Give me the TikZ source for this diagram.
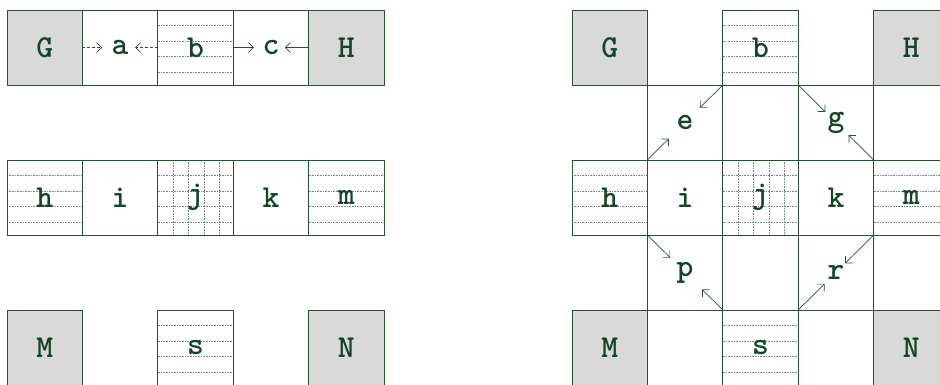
\documentclass[tikz,border=0pt]{standalone}
\usetikzlibrary{arrows.meta}
\definecolor{ln}{RGB}{38,82,52}
\definecolor{tx}{RGB}{18,70,38}
\definecolor{hl}{RGB}{120,142,124}
\definecolor{gf}{RGB}{217,217,217}
\tikzset{
  cell/.style={draw=ln, line width=0.8pt, minimum width=75.4pt, minimum height=75pt,
    inner sep=0pt, outer sep=0pt, text=tx, font=\fontsize{32}{36}\selectfont\ttfamily\bfseries, anchor=north west},
  shadecell/.style={cell, fill=gf},
  hline/.style={hl, line width=0.6pt, dash pattern=on 0.8pt off 0.8pt},
  hatchh/.style={path picture={
    \foreach \k in {1,...,4}
      \draw[hline] ([yshift=-\k*15.5pt]path picture bounding box.north west) -- ([yshift=-\k*15.5pt]path picture bounding box.north east);}},
  hatchg/.style={path picture={
    \foreach \k in {1,...,4}{
      \draw[hline] ([yshift=-\k*15.5pt]path picture bounding box.north west) -- ([yshift=-\k*15.5pt]path picture bounding box.north east);
      \draw[hline] ([xshift=\k*15.4pt]path picture bounding box.north west) -- ([xshift=\k*15.4pt]path picture bounding box.south west);}}},
  arr/.style={ln, line width=0.7pt, -{Straight Barb[length=5pt,width=10pt]}},
  dsh/.style={dash pattern=on 3pt off 2pt},
}
\begin{document}
\begin{tikzpicture}[x=1pt,y=-1pt]
\clip (0,0) rectangle (940,385);
% ---------- left diagram ----------
\node[shadecell] (lG) at (7,10) {G};
\node[cell] (la) at (82.4,10) {a};
\node[cell,hatchh] (lb) at (157.8,10) {b};
\node[cell] (lc) at (233.2,10) {c};
\node[shadecell] (lH) at (308.6,10) {H};
\node[cell,hatchh] (lh) at (7,160) {h};
\node[cell] (li) at (82.4,160) {i};
\node[cell,hatchg] (lj) at (157.8,160) {j};
\node[cell] (lk) at (233.2,160) {k};
\node[cell,hatchh] (lm) at (308.6,160) {m};
\node[shadecell] (lM) at (7,310) {M};
\node[cell,hatchh] (ls) at (157.8,310) {s};
\node[shadecell] (lN) at (308.6,310) {N};
\draw[arr,dsh,shorten >=18pt] (lG.east) -- (la.center);
\draw[arr,dsh,shorten >=15pt] (lb.west) -- (la.center);
\draw[arr,shorten >=17pt] (lb.east) -- (lc.center);
\draw[arr,shorten >=14pt] (lH.west) -- (lc.center);
% ---------- right diagram ----------
\node[shadecell] (rG) at (572,10) {G};
\node[cell,hatchh] (rb) at (722.8,10) {b};
\node[shadecell] (rH) at (873.6,10) {H};
\node[cell] (re) at (647.4,85) {e};
\node[cell] (rx1) at (722.8,85) {};
\node[cell] (rg) at (798.2,85) {g};
\node[cell,hatchh] (rh) at (572,160) {h};
\node[cell] (ri) at (647.4,160) {i};
\node[cell,hatchg] (rj) at (722.8,160) {j};
\node[cell] (rk) at (798.2,160) {k};
\node[cell,hatchh] (rm) at (873.6,160) {m};
\node[cell] (rp) at (647.4,235) {p};
\node[cell] (rx2) at (722.8,235) {};
\node[cell] (rr) at (798.2,235) {r};
\node[shadecell] (rM) at (572,310) {M};
\node[cell,hatchh] (rs) at (722.8,310) {s};
\node[shadecell] (rN) at (873.6,310) {N};
\draw[arr,shorten >=21pt] (rb.south west) -- (re.center);
\draw[arr,shorten >=23pt] (ri.north west) -- (re.center);
\draw[arr,shorten >=15pt] (rb.south east) -- (rg.center);
\draw[arr,shorten >=18pt] (rk.north east) -- (rg.center);
\draw[arr,shorten >=21pt] (ri.south west) -- (rp.center);
\draw[arr,shorten >=24pt] (rs.north west) -- (rp.center);
\draw[arr,shorten >=13pt] (rk.south east) -- (rr.center);
\draw[arr,shorten >=16pt] (rs.north east) -- (rr.center);
\end{tikzpicture}
\end{document}
